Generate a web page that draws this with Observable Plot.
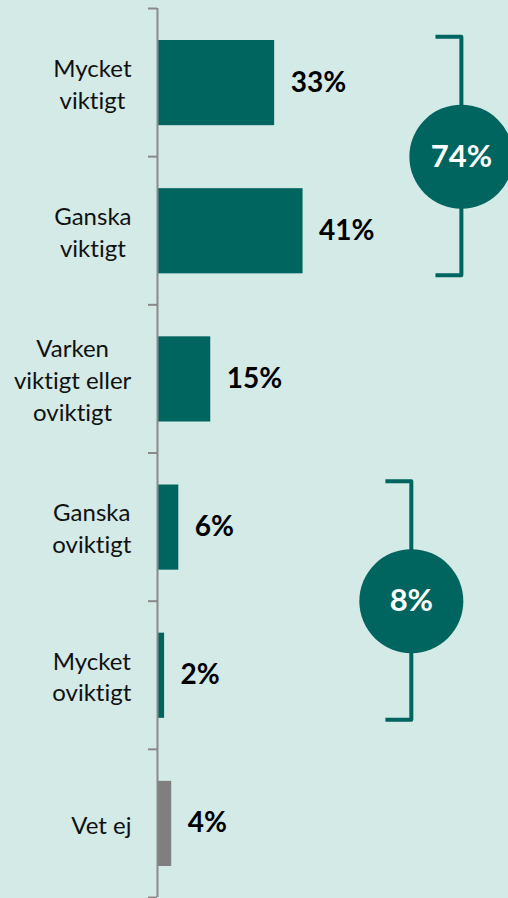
<!DOCTYPE html>
<html><head><meta charset="utf-8">
<script src="https://cdn.jsdelivr.net/npm/d3@7"></script>
<script src="https://cdn.jsdelivr.net/npm/@observablehq/plot@0.6"></script>
<style>html,body{margin:0;padding:0;background:#d3eae7;overflow:hidden} svg text{font-variant-ligatures:none;font-feature-settings:"liga" 0}</style>
</head><body><div id="chart"></div>
<script>
const categories = ["Mycket\nviktigt", "Ganska\nviktigt", "Varken\nviktigt eller\noviktigt", "Ganska\noviktigt", "Mycket\noviktigt", "Vet ej"];
const values = [33, 41, 15, 6, 2, 4];
const valueLabels = ["33%", "41%", "15%", "6%", "2%", "4%"];
const barColors = ["#00645f", "#00645f", "#00645f", "#00645f", "#00645f", "#7f7f7f"];
const groupLabels = ["74%", "8%"];
const groupFrom = [0, 3];
const groupTo = [1, 4];

const teal = "#00645f";
const font = "Lato, 'Open Sans', sans-serif";
const rows = categories.map((c, i) => ({i, cat: c, value: values[i], label: valueLabels[i], color: barColors[i]}));

const ctx = document.createElement("canvas").getContext("2d");
ctx.font = "24px Lato";
const blockW = s => Math.max(...s.split("\n").map(l => ctx.measureText(l).width));

const bracketX = [85.6, 71.5];
const groups = groupLabels.map((g, k) => ({label: g, from: groupFrom[k], to: groupTo[k], x: bracketX[k]}));

const marks = [
  Plot.rectX(rows, {x1: 0, x2: "value", y1: "i", y2: d => d.i + 1, insetTop: 32, insetBottom: 31, insetLeft: 1, fill: "color"}),
  Plot.ruleX([0], {y1: 0, y2: 6, stroke: "#8a8a8a", strokeWidth: 2}),
  Plot.axisY(d3.range(7), {anchor: "left", tickSize: 9, tickFormat: () => "", stroke: "#8a8a8a", strokeWidth: 2}),
  ...rows.map(r => Plot.text([r], {x: 0, y: d => d.i + 0.5, text: "cat", dx: -26 - blockW(r.cat) / 2, textAnchor: "middle", fontSize: 24, lineHeight: 1.33, fill: "#111", fontFamily: font})),
  Plot.text(rows, {x: "value", y: d => d.i + 0.5, text: "label", dx: 16, textAnchor: "start", fontWeight: "bold", fontSize: 28, fill: "#000", fontFamily: font}),
  ...groups.map(g => Plot.line([
    {x: g.x - 7.3, y: g.from + 0.19}, {x: g.x, y: g.from + 0.19},
    {x: g.x, y: g.to + 0.8}, {x: g.x - 7.3, y: g.to + 0.8}
  ], {x: "x", y: "y", stroke: teal, strokeWidth: 4, strokeLinejoin: "round", strokeLinecap: "butt", curve: "bump-y"})),
  Plot.dot(groups, {x: "x", y: d => (d.from + d.to + 1) / 2, r: 52, fill: teal, stroke: null}),
  Plot.text(groups, {x: "x", y: d => (d.from + d.to + 1) / 2, text: "label", fill: "white", fontWeight: "bold", fontSize: 31, fontFamily: font})
];

const chart = Plot.plot({
  width: 508, height: 898,
  marginLeft: 157, marginRight: 0, marginTop: 8, marginBottom: 1,
  style: {background: "#d3eae7", fontFamily: font, overflow: "hidden"},
  x: {domain: [0, 100], range: [157, 512], axis: null},
  y: {domain: [0, 6], range: [8, 897], axis: null},
  color: {type: "identity"},
  marks
});
document.getElementById("chart").append(chart);
</script></body></html>
